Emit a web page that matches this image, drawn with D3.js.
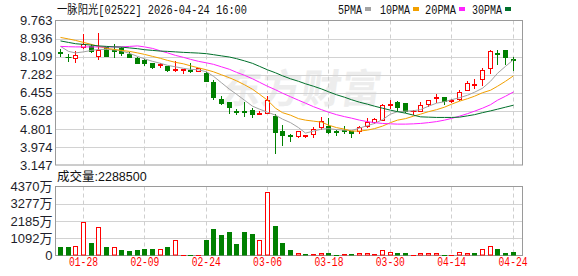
<!DOCTYPE html>
<html>
<head>
<meta charset="utf-8">
<script src="https://cdn.jsdelivr.net/npm/d3@7"></script>
<style>
body { margin: 0; background: #fff; }
svg { display: block; }
</style>
</head>
<body>
<div id="chart"></div>
<script>
// trading days shown (MM-DD)
var dates = ["01-23","01-26","01-27","01-28","01-29","01-30",
  "02-02","02-03","02-04","02-05","02-06","02-09","02-10","02-11","02-12","02-13",
  "02-16","02-20","02-23","02-24","02-25","02-26","02-27",
  "03-02","03-03","03-04","03-05","03-06","03-09","03-10","03-11","03-12","03-13",
  "03-16","03-17","03-18","03-19","03-20","03-23","03-24","03-25","03-26","03-27",
  "03-30","03-31","04-01","04-02","04-08","04-09","04-10","04-13","04-14",
  "04-15","04-16","04-17","04-20","04-21","04-22","04-23","04-24"];

var openP  = [8.31,8.09,8.06,8.55,8.60,8.15,8.53,8.42,8.52,8.21, 8.06,7.94,7.82,7.74,7.66,7.50,7.50,7.51,7.45,7.36,
              6.95,6.19,6.01,5.63,5.61,5.66,5.50,5.55,5.38,4.71, 4.52,4.47,4.47,4.56,4.87,4.93,4.71,4.76,4.71,4.70,
              4.93,5.10,5.23,5.90,6.04,5.98,5.60,5.63,5.96,6.22, 6.26,6.10,6.17,6.60,6.80,7.07,7.61,8.26,8.39,7.98];
var highP  = [8.46,8.23,8.38,9.16,8.70,9.17,8.56,8.69,8.55,8.30, 8.09,8.01,7.84,7.83,7.70,7.90,7.53,7.82,7.60,7.39,
              7.06,6.30,6.03,5.70,6.04,5.74,5.63,6.30,5.50,4.97, 4.56,4.72,4.54,4.87,5.35,5.31,4.77,4.93,4.72,4.93,
              5.32,5.28,5.96,6.14,6.08,6.00,5.68,6.02,6.14,6.39, 6.27,6.16,6.60,6.98,7.07,7.59,8.42,8.42,8.40,8.08];
var lowP   = [8.14,7.92,7.86,8.51,8.32,8.02,8.12,8.10,8.20,8.08, 7.80,7.71,7.60,7.62,7.45,7.44,7.38,7.40,7.44,6.98,
              6.19,5.96,5.53,5.48,5.38,5.35,5.48,5.51,3.71,4.06, 4.26,4.45,4.41,4.41,4.78,4.62,4.54,4.62,4.41,4.59,
              4.90,5.05,5.20,5.74,5.63,5.57,5.48,5.61,5.83,6.02, 5.96,6.02,6.11,6.56,6.66,6.81,7.36,7.76,7.79,7.51];
var closeP = [8.29,8.07,8.20,8.67,8.38,8.39,8.14,8.35,8.29,8.10, 7.82,7.80,7.63,7.76,7.51,7.52,7.53,7.46,7.59,6.99,
              6.26,5.99,5.81,5.59,5.57,5.48,5.52,6.11,4.67,4.52, 4.47,4.70,4.52,4.80,5.16,4.67,4.68,4.72,4.59,4.87,
              5.11,5.25,5.89,5.93,5.81,5.61,5.63,5.90,6.11,6.26, 6.08,6.13,6.50,6.89,6.84,7.48,8.35,8.23,8.08,7.94];

var ma5  = [8.577,8.349,8.280,8.326,8.394,8.440,8.440,8.417,8.372,8.258, 8.121,8.007,7.893,7.801,7.710,7.642,7.573,7.528,7.505,7.414,
            7.208,6.912,6.615,6.387,6.113,5.840,5.703,5.566,5.429,5.247, 5.087,4.859,4.608,4.699,4.790,4.813,4.768,4.745,4.722,4.836,
            4.950,5.050,5.224,5.475,5.589,5.612,5.634,5.680,5.840,5.977, 6.045,6.136,6.227,6.341,6.478,6.661,6.980,7.345,7.664,7.970];
var ma10 = [8.987,8.919,8.851,8.759,8.668,8.577,8.486,8.440,8.394,8.349, 8.280,8.212,8.121,8.029,7.938,7.847,7.779,7.687,7.596,7.505,
            7.414,7.277,7.140,7.003,6.821,6.615,6.387,6.113,5.748,5.543, 5.429,5.269,5.201,5.155,5.110,4.973,4.859,4.790,4.699,4.699,
            4.745,4.813,4.927,5.087,5.201,5.269,5.383,5.475,5.589,5.680, 5.794,5.931,6.068,6.182,6.296,6.456,6.570,6.752,6.980,7.231];
var ma20 = [8.577,8.563,8.554,8.554,8.554,8.554,8.554,8.554,8.554,8.577, 8.600,8.554,8.486,8.372,8.280,8.166,8.075,7.984,7.893,7.824,
            7.756,7.642,7.528,7.391,7.254,7.094,6.935,6.752,6.592,6.433, 6.273,6.113,5.977,5.817,5.680,5.566,5.452,5.361,5.292,5.201,
            5.133,5.087,5.050,5.032,5.019,5.019,5.032,5.050,5.087,5.133, 5.201,5.279,5.383,5.498,5.612,5.748,5.908,6.113,6.296,6.492];
var ma30 = [8.828,8.759,8.700,8.668,8.636,8.600,8.577,8.554,8.545,8.508, 8.472,8.426,8.394,8.362,8.349,8.326,8.303,8.289,8.271,8.244,
            8.198,8.143,8.089,8.016,7.915,7.801,7.664,7.505,7.368,7.231, 7.094,6.980,6.866,6.752,6.629,6.501,6.364,6.250,6.136,6.022,
            5.931,5.840,5.748,5.657,5.589,5.520,5.429,5.352,5.338,5.324, 5.324,5.324,5.338,5.397,5.452,5.543,5.625,5.703,5.794,5.885];

// volume in 万 shares, and bar direction (1 = red/up, 0 = green/down)
var volume = [570,507,612,2153,823,1817,570,570,317,274, 317,443,443,443,570,992,63,60,60,992,
              1647,1267,1520,760,1520,1393,992,4034,1900,823, 338,169,106,106,190,190,63,106,106,190,
              190,106,317,253,190,127,63,190,127,190, 63,63,253,190,127,443,612,443,190,229];
var volUp  = [0,0,1,1,0,1,0,1,0,0, 0,0,0,1,0,1,1,0,1,0, 0,0,0,0,0,0,1,1,0,0,
              0,1,0,1,1,0,0,1,0,1, 1,1,1,1,0,0,1,1,1,1, 0,1,1,1,0,1,1,0,0,0];

var priceTicks = [3.147,3.974,4.801,5.628,6.455,7.282,8.109,8.936,9.763];
var volTicks = [0,1092,2185,3277,4370];
var volTickLabels = ["0","1092万","2185万","3277万","4370万"];
var dateTicks = ["01-28","02-09","02-24","03-06","03-18","03-30","04-14","04-24"];

var maNames = ["5PMA","10PMA","20PMA","30PMA"];
var maColors = ["#a3a3a3","#f2a000","#ff22ff","#00702b"];

var width = 578, height = 276;
var left = 55.5, right = 522.5;
var pTop = 20.5, pBot = 165, vTop = 186.5, vBot = 255.5;
var up = "#ff0000", down = "#008000";

var svg = d3.select("#chart").append("svg")
  .attr("width", width)
  .attr("height", height)
  .style("font-family", "'Liberation Sans', Arial, sans-serif");

var x = d3.scaleBand()
  .domain(dates)
  .range([56.67, 516.87])
  .paddingInner(0.35)
  .paddingOuter(0.175);
function cx(d) { return Math.floor(x(d) + x.bandwidth() / 2) + 0.5; }

var y = d3.scaleLinear().domain([3.147, 9.763]).range([pBot, pTop]);
var yv = d3.scaleLinear().domain([0, 4370]).range([vBot, vTop]);

// watermark
svg.append("text")
  .attr("x", 300).attr("y", 103)
  .attr("text-anchor", "middle")
  .attr("transform", "skewX(-8) translate(14,0)")
  .style("font-family", "'Noto Sans CJK SC'")
  .style("font-size", "40px")
  .style("font-weight", "bold")
  .style("fill", "#ededed")
  .text("东方财富");

// horizontal grid (price)
svg.append("g").selectAll("line")
  .data(priceTicks.slice(1, -1))
  .enter().append("line")
  .attr("x1", left).attr("x2", right)
  .attr("y1", d => Math.round(y(d)) + 0.5)
  .attr("y2", d => Math.round(y(d)) + 0.5)
  .attr("stroke", "#d2d2d2");

// horizontal grid (volume)
svg.append("g").selectAll("line")
  .data(volTicks.slice(1, -1))
  .enter().append("line")
  .attr("x1", left).attr("x2", right)
  .attr("y1", d => Math.round(yv(d)) + 0.5)
  .attr("y2", d => Math.round(yv(d)) + 0.5)
  .attr("stroke", "#d2d2d2");

// vertical dashed grid, both panels
[[pTop, pBot], [vTop, vBot]].forEach(function(r) {
  svg.append("g").selectAll("line")
    .data(dateTicks)
    .enter().append("line")
    .attr("x1", d => cx(d)).attr("x2", d => cx(d))
    .attr("y1", r[0]).attr("y2", r[1])
    .attr("stroke", "#cfcfcf")
    .attr("stroke-dasharray", "4,3");
});

// panel frames
svg.append("rect").attr("x", left).attr("y", pTop)
  .attr("width", right - left).attr("height", pBot - pTop)
  .attr("fill", "none").attr("stroke", "#9a9a9a");
svg.append("rect").attr("x", left).attr("y", vTop)
  .attr("width", right - left).attr("height", vBot - vTop)
  .attr("fill", "none").attr("stroke", "#9a9a9a");

// y axis labels
var priceAxis = svg.append("g")
  .attr("transform", "translate(" + left + ",0)")
  .call(d3.axisLeft(y).tickValues(priceTicks).tickSize(0).tickPadding(3).tickFormat(d => d.toFixed(3)));
priceAxis.select(".domain").remove();
priceAxis.selectAll("text").style("font-size", "13px").style("fill", "#1e1e2a").style("font-family", "'Liberation Sans', Arial");

var volAxis = svg.append("g")
  .attr("transform", "translate(" + left + ",0)")
  .call(d3.axisLeft(yv).tickValues(volTicks).tickSize(0).tickPadding(3).tickFormat((d, i) => volTickLabels[i]));
volAxis.select(".domain").remove();
volAxis.selectAll("text").style("font-size", "13px").style("fill", "#1e1e2a").style("font-family", "'Liberation Sans', 'Noto Sans CJK SC'");

// x axis labels
var dateAxis = svg.append("g")
  .attr("transform", "translate(0," + vBot + ")")
  .call(d3.axisBottom(x).tickValues(dateTicks).tickSize(0).tickPadding(2));
dateAxis.select(".domain").remove();
dateAxis.selectAll("text")
  .style("font-size", "12px")
  .style("font-family", "'Liberation Mono', monospace")
  .style("fill", "#ff0000")
  .attr("textLength", 29)
  .attr("lengthAdjust", "spacingAndGlyphs");

// volume bars
svg.append("g").selectAll("rect")
  .data(volume)
  .enter().append("rect")
  .attr("x", (d, i) => cx(dates[i]) - 2)
  .attr("y", d => Math.round(yv(d)) + 0.5)
  .attr("width", 4)
  .attr("height", d => Math.max(vBot - 0.5 - (Math.round(yv(d)) + 0.5), 0.01))
  .attr("fill", (d, i) => volUp[i] ? "#fff" : down)
  .attr("stroke", (d, i) => volUp[i] ? up : down);

// candles
var candles = svg.append("g").selectAll("g")
  .data(dates)
  .enter().append("g");

candles.append("line")
  .attr("x1", d => cx(d)).attr("x2", d => cx(d))
  .attr("y1", (d, i) => Math.round(y(highP[i])))
  .attr("y2", (d, i) => Math.round(y(lowP[i])) + 1)
  .attr("stroke", (d, i) => closeP[i] >= openP[i] ? up : down);

candles.each(function(d, i) {
  var g = d3.select(this);
  var isUp = closeP[i] >= openP[i];
  var col = isUp ? up : down;
  var t = Math.round(y(Math.max(openP[i], closeP[i])));
  var b = Math.round(y(Math.min(openP[i], closeP[i])));
  if (b - t < 1) {
    g.append("line")
      .attr("x1", cx(d) - 3).attr("x2", cx(d) + 3)
      .attr("y1", t + 0.5).attr("y2", t + 0.5)
      .attr("stroke", col);
  } else {
    g.append("rect")
      .attr("x", cx(d) - 2).attr("y", t + 0.5)
      .attr("width", 4).attr("height", b - t)
      .attr("fill", isUp ? "#fff" : col)
      .attr("stroke", col);
  }
});

// moving averages
var line = d3.line()
  .x((d, i) => cx(dates[i]))
  .y(d => y(d));
[ma5, ma10, ma20, ma30].forEach(function(ma, k) {
  svg.append("path")
    .datum(ma)
    .attr("d", line)
    .attr("fill", "none")
    .attr("stroke", maColors[k])
    .attr("stroke-width", 1);
});

// title
svg.append("text")
  .attr("x", 57).attr("y", 13.5)
  .style("font-family", "'Liberation Mono', 'Noto Sans CJK SC'")
  .style("font-size", "12px")
  .style("fill", "#111")
  .attr("textLength", 190)
  .attr("lengthAdjust", "spacingAndGlyphs")
  .text("一脉阳光[02522] 2026-04-24 16:00");

// legend
var legendX = [338, 380, 425, 472];
var legendW = [24, 30, 31, 30];
var legend = svg.append("g").selectAll("g")
  .data(maNames)
  .enter().append("g");
legend.append("text")
  .attr("x", (d, i) => legendX[i]).attr("y", 13.5)
  .style("font-family", "'Liberation Mono', monospace")
  .style("font-size", "12px")
  .style("fill", "#111")
  .attr("textLength", (d, i) => legendW[i])
  .attr("lengthAdjust", "spacingAndGlyphs")
  .text(d => d);
legend.append("rect")
  .attr("x", (d, i) => legendX[i] + legendW[i] + 3)
  .attr("y", 7).attr("width", 6).attr("height", 4)
  .attr("fill", (d, i) => maColors[i]);

// volume caption
svg.append("text")
  .attr("x", 57).attr("y", 181)
  .style("font-family", "'Liberation Sans', 'Noto Sans CJK SC'")
  .style("font-size", "12.5px")
  .style("fill", "#111")
  .text("成交量:" + "2288500");
</script>
</body>
</html>
